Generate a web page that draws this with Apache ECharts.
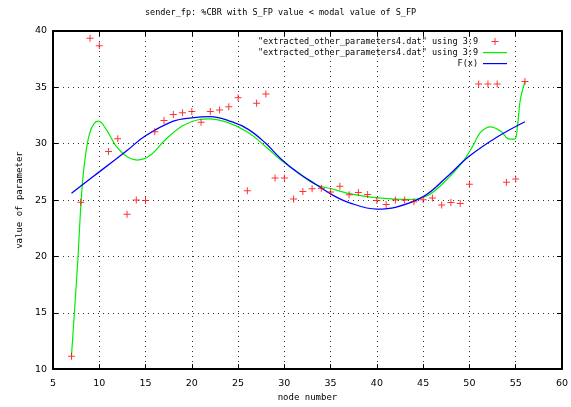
<!DOCTYPE html>
<html>
<head>
<meta charset="utf-8">
<script src="https://cdn.jsdelivr.net/npm/echarts@6/dist/echarts.min.js"></script>
<style>html,body{margin:0;padding:0;background:#fff;}#c{width:571px;height:407px;}</style>
</head>
<body>
<div id="c"></div>
<script>
var titleText = 'sender_fp: %CBR with S_FP value < modal value of S_FP';
var xName = 'node number';
var yName = 'value of parameter';
var dataName = '"extracted_other_parameters4.dat" using 3:9';
var smoothName = '"extracted_other_parameters4.dat" using 3:9\u200b';
var fitName = 'F(x)';
var xTicks = {min: 5, max: 60, step: 5};
var yTicks = {min: 10, max: 40, step: 5};

var nodes = [7,8,9,10,11,12,13,14,15,16,17,18,19,20,21,22,23,24,25,26,27,28,29,30,31,32,33,34,35,36,37,38,39,40,41,42,43,44,45,46,47,48,49,50,51,52,53,54,55,56];
var values = [11.15,24.8,39.35,38.7,29.3,30.45,23.75,25.0,24.95,31.05,32.05,32.6,32.75,32.85,31.9,32.85,33.0,33.27,34.07,25.83,33.6,34.4,26.95,26.95,25.1,25.75,26.0,26.05,25.72,26.22,25.47,25.68,25.5,24.95,24.6,25.0,25.0,24.86,25.03,25.18,24.55,24.78,24.7,26.4,35.3,35.3,35.3,26.57,26.86,35.53];

var smoothX = [7,7.31,7.71,7.92,8.2,8.55,8.95,9.45,9.95,10.8,11.8,12.9,14.1,15.4,17.2,19.0,20.8,21.8,24.0,26.1,27.9,29.7,31.5,33.3,35.1,36.9,40.1,43.7,45.5,47.3,49.1,50.3,51.2,52.3,53.4,54.3,54.9,55.2,55.5,56];
var smoothY = [11.2,15,20,23.3,26.7,29.2,30.9,31.8,32.0,31.2,29.8,28.9,28.55,28.9,30.4,31.6,32.15,32.2,31.85,31.0,29.8,28.5,27.45,26.4,26.0,25.6,25.2,25.05,25.4,26.6,28.2,29.7,31.0,31.5,31.1,30.4,30.4,31.6,33.9,35.5];

var fitX = [7,10,13,15,18,20,22,24.3,26.1,27.9,29.7,31.5,33.3,35.1,36.9,40,42,45,47.5,50,53,56];
var fitY = [25.6,27.5,29.4,30.7,32.0,32.3,32.4,31.95,31.27,30.1,28.6,27.4,26.45,25.5,24.8,24.2,24.36,25.3,27.0,28.9,30.6,31.95];

function zip(a, b) { return a.map(function (v, i) { return [v, b[i]]; }); }

var plusPath = 'path://M3,0H4V3H7V4H4V7H3V4H0V3H3Z';
var lineIcon = 'path://M0,0M0,3H24V4.2H0ZM24,7';
var mono = 'DejaVu Sans Mono';
var gridLine = {show: true, lineStyle: {color: '#333', type: [1, 4], width: 1}};
var axisLine = {show: true, onZero: false, lineStyle: {color: '#000', width: 2}};
var tick = {show: true, inside: true, length: 5, lineStyle: {color: '#000', width: 1}};

var chart = echarts.init(document.getElementById('c'), null, {renderer: 'canvas'});
chart.setOption({
  animation: false,
  backgroundColor: '#fff',
  title: {text: titleText, left: 145, top: 8, padding: 0,
    textStyle: {fontFamily: mono, fontSize: 8.5, fontWeight: 'normal', color: '#000'}},
  legend: {
    orient: 'vertical', right: 64, top: 36, padding: 0, itemGap: 0,
    align: 'right', itemWidth: 24, itemHeight: 7,
    textStyle: {fontFamily: mono, fontSize: 8.5, color: '#000', lineHeight: 11},
    data: [
      {name: dataName, icon: plusPath, itemStyle: {color: '#ff0000'}},
      {name: smoothName, icon: lineIcon, itemStyle: {color: '#00ee00'}},
      {name: fitName, icon: lineIcon, itemStyle: {color: '#0000ff'}}
    ]
  },
  grid: {left: 53, right: 7, top: 31, bottom: 36},
  xAxis: [
    {type: 'value', min: xTicks.min, max: xTicks.max, interval: xTicks.step, position: 'bottom',
      name: xName, nameLocation: 'middle', nameGap: 23,
      nameTextStyle: {fontFamily: mono, fontSize: 9, color: '#000'},
      axisLine: axisLine, axisTick: tick, splitLine: gridLine,
      axisLabel: {margin: 9, fontFamily: 'DejaVu Sans', fontSize: 9.5, color: '#000'}},
    {type: 'value', min: xTicks.min, max: xTicks.max, interval: xTicks.step, position: 'top',
      axisLine: axisLine, axisTick: tick, splitLine: {show: false}, axisLabel: {show: false}}
  ],
  yAxis: [
    {type: 'value', min: yTicks.min, max: yTicks.max, interval: yTicks.step, position: 'left',
      name: yName, nameLocation: 'middle', nameGap: 28, nameRotate: 90,
      nameTextStyle: {fontFamily: mono, fontSize: 9, color: '#000'},
      axisLine: axisLine, axisTick: tick, splitLine: gridLine,
      axisLabel: {margin: 6, fontFamily: 'DejaVu Sans', fontSize: 9.5, color: '#000'}},
    {type: 'value', min: yTicks.min, max: yTicks.max, interval: yTicks.step, position: 'right',
      axisLine: axisLine, axisTick: tick, splitLine: {show: false}, axisLabel: {show: false}}
  ],
  series: [
    {name: dataName, type: 'scatter', symbol: plusPath, symbolSize: 7,
      itemStyle: {color: '#ff0000'}, data: zip(nodes, values), z: 3},
    {name: smoothName, type: 'line', symbol: 'none', smooth: 0.35,
      lineStyle: {color: '#00ee00', width: 1.2}, itemStyle: {color: '#00ee00'},
      data: zip(smoothX, smoothY), z: 2},
    {name: fitName, type: 'line', symbol: 'none', smooth: 0.4,
      lineStyle: {color: '#0000ff', width: 1.3}, itemStyle: {color: '#0000ff'},
      data: zip(fitX, fitY), z: 2}
  ]
});
</script>
</body>
</html>
